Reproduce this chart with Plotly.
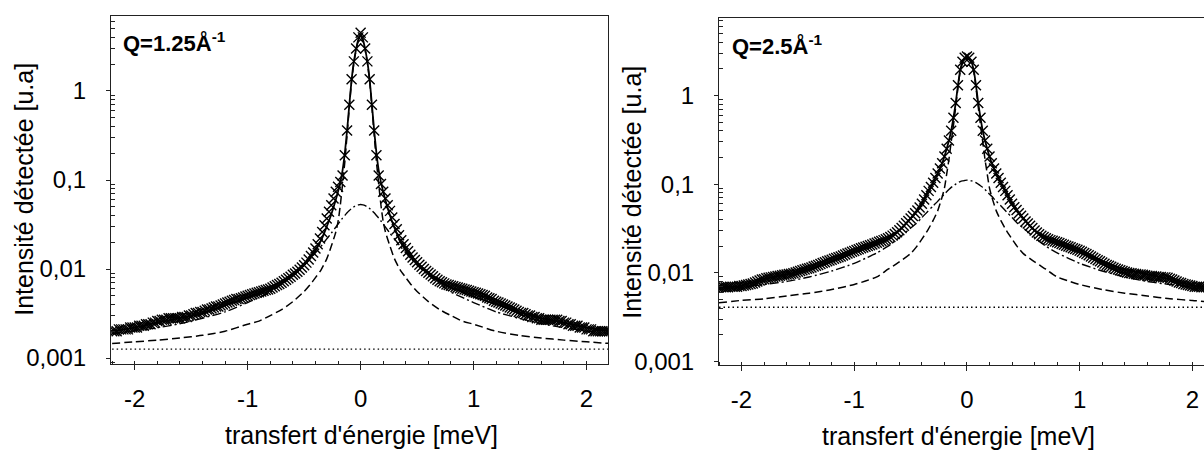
import numpy as np
import plotly.graph_objects as go

# ---------------- data ----------------
STEP = 0.02
E_DATA = np.round(np.arange(-110, 111) * STEP, 2)  # energy transfer grid (meV)

# measured intensity, Q = 1.25 A^-1
I_Q125 = [
    0.0020, 0.0020, 0.0020, 0.0021, 0.0021, 0.0021, 0.0021, 0.0021, 0.0022, 0.0022,
    0.0022, 0.0022, 0.0023, 0.0023, 0.0023, 0.0024, 0.0024, 0.0024, 0.0025, 0.0025,
    0.0026, 0.0026, 0.0027, 0.0027, 0.0027, 0.0028, 0.0028, 0.0028, 0.0028, 0.0028,
    0.0028, 0.0029, 0.0029, 0.0029, 0.0030, 0.0030, 0.0031, 0.0032, 0.0032, 0.0033,
    0.0033, 0.0034, 0.0035, 0.0035, 0.0036, 0.0037, 0.0038, 0.0038, 0.0039, 0.0040,
    0.0041, 0.0042, 0.0043, 0.0044, 0.0045, 0.0046, 0.0046, 0.0047, 0.0048, 0.0049,
    0.0050, 0.0051, 0.0052, 0.0053, 0.0054, 0.0055, 0.0056, 0.0057, 0.0058, 0.0059,
    0.0060, 0.0062, 0.0064, 0.0066, 0.0068, 0.0070, 0.0073, 0.0076, 0.0079, 0.0082,
    0.0086, 0.0089, 0.0093, 0.0098, 0.0104, 0.0110, 0.0118, 0.0128, 0.0140, 0.0153,
    0.0170, 0.0190, 0.0220, 0.0260, 0.0310, 0.0370, 0.0440, 0.0520, 0.0620, 0.0740,
    0.084, 0.095, 0.112, 0.19, 0.36, 0.70, 1.35, 2.15, 3.0, 4.0,
    4.5,
    4.0, 3.0, 2.15, 1.35, 0.70, 0.36, 0.19, 0.112, 0.090, 0.074,
    0.062, 0.052, 0.045, 0.038, 0.032, 0.028, 0.024, 0.021, 0.019, 0.0172,
    0.0158, 0.0145, 0.0135, 0.0126, 0.0119, 0.0112, 0.0106, 0.0100, 0.0095, 0.0091,
    0.0087, 0.0083, 0.0079, 0.0076, 0.0073, 0.0071, 0.0069, 0.0067, 0.0066, 0.0065,
    0.0064, 0.0063, 0.0062, 0.0061, 0.0060, 0.0059, 0.0058, 0.0057, 0.0056, 0.0055,
    0.0054, 0.0053, 0.0052, 0.0051, 0.0050, 0.0048, 0.0047, 0.0046, 0.0044, 0.0043,
    0.0042, 0.0041, 0.0040, 0.0039, 0.0038, 0.0037, 0.0036, 0.0035, 0.0034, 0.0033,
    0.0032, 0.0032, 0.0031, 0.0030, 0.0030, 0.0029, 0.0029, 0.0028, 0.0028, 0.0027,
    0.0027, 0.0027, 0.0027, 0.0027, 0.0027, 0.0027, 0.0027, 0.0026, 0.0026, 0.0025,
    0.0025, 0.0024, 0.0024, 0.0023, 0.0023, 0.0023, 0.0022, 0.0022, 0.0022, 0.0021,
    0.0021, 0.0021, 0.0020, 0.0020, 0.0020, 0.0020, 0.0020, 0.0020, 0.0020, 0.0020,
]

# measured intensity, Q = 2.5 A^-1
I_Q25 = [
    0.0069, 0.0069, 0.0069, 0.0069, 0.0069, 0.0070, 0.0070, 0.0070, 0.0070, 0.0071,
    0.0071, 0.0072, 0.0073, 0.0074, 0.0075, 0.0076, 0.0078, 0.0080, 0.0082, 0.0084,
    0.0085, 0.0087, 0.0088, 0.0089, 0.0090, 0.0091, 0.0092, 0.0093, 0.0094, 0.0095,
    0.0096, 0.0097, 0.0098, 0.0099, 0.0101, 0.0103, 0.0105, 0.0107, 0.0109, 0.0111,
    0.0113, 0.0115, 0.0118, 0.0120, 0.0123, 0.0126, 0.0129, 0.0132, 0.0135, 0.0138,
    0.0141, 0.0144, 0.0147, 0.0150, 0.0153, 0.0157, 0.0161, 0.0165, 0.0169, 0.0173,
    0.0177, 0.0181, 0.0185, 0.0189, 0.0193, 0.0197, 0.0201, 0.0205, 0.0209, 0.0214,
    0.0219, 0.0224, 0.0229, 0.0234, 0.0240, 0.0246, 0.0254, 0.0263, 0.0274, 0.0287,
    0.0302, 0.0320, 0.0340, 0.0362, 0.0385, 0.0410, 0.0438, 0.0470, 0.0505, 0.0545,
    0.060, 0.067, 0.075, 0.084, 0.093, 0.104, 0.117, 0.132, 0.150, 0.172,
    0.205, 0.25, 0.31, 0.40, 0.56, 0.82, 1.30, 1.95, 2.40, 2.65,
    2.75,
    2.65, 2.40, 1.95, 1.30, 0.82, 0.56, 0.40, 0.31, 0.25, 0.205,
    0.172, 0.150, 0.132, 0.117, 0.104, 0.093, 0.084, 0.075, 0.067, 0.060,
    0.055, 0.051, 0.047, 0.044, 0.041, 0.038, 0.036, 0.034, 0.032, 0.030,
    0.0285, 0.0272, 0.0262, 0.0253, 0.0245, 0.0239, 0.0234, 0.0230, 0.0226, 0.0222,
    0.0217, 0.0212, 0.0207, 0.0202, 0.0198, 0.0194, 0.0190, 0.0186, 0.0182, 0.0178,
    0.0173, 0.0168, 0.0163, 0.0158, 0.0153, 0.0148, 0.0143, 0.0139, 0.0135, 0.0131,
    0.0127, 0.0123, 0.0120, 0.0117, 0.0114, 0.0111, 0.0109, 0.0107, 0.0105, 0.0103,
    0.0101, 0.0100, 0.0099, 0.0098, 0.0097, 0.0096, 0.0096, 0.0095, 0.0094, 0.0093,
    0.0092, 0.0092, 0.0091, 0.0091, 0.0090, 0.0090, 0.0089, 0.0089, 0.0088, 0.0086,
    0.0084, 0.0082, 0.0080, 0.0078, 0.0077, 0.0075, 0.0074, 0.0073, 0.0072, 0.0071,
    0.0070, 0.0070, 0.0070, 0.0069, 0.0069, 0.0069, 0.0069, 0.0069, 0.0069, 0.0069,
]

# model curves (total fit, narrow/elastic component, broad component, background)
E_FIT = [-2.2, -2.0, -1.8, -1.6, -1.4, -1.2, -1.0, -0.9, -0.8, -0.7, -0.6, -0.5,
         -0.45, -0.4, -0.35, -0.3, -0.26, -0.22, -0.2, -0.18, -0.16, -0.14, -0.12,
         -0.1, -0.08, -0.06, -0.04, -0.02, 0.0, 0.02, 0.04, 0.06, 0.08, 0.1, 0.12,
         0.14, 0.16, 0.18, 0.2, 0.22, 0.26, 0.3, 0.35, 0.4, 0.45, 0.5, 0.6, 0.7,
         0.8, 0.9, 1.0, 1.2, 1.4, 1.6, 1.8, 2.0, 2.2]

FIT_Q125 = [0.0020, 0.0022, 0.0025, 0.0028, 0.0032, 0.0039, 0.0048, 0.0054, 0.0062,
            0.0073, 0.0090, 0.0116, 0.0136, 0.0164, 0.0210, 0.030, 0.041, 0.060,
            0.074, 0.094, 0.128, 0.20, 0.36, 0.70, 1.33, 2.12, 2.95, 3.8, 4.25,
            3.8, 2.95, 2.12, 1.33, 0.70, 0.36, 0.20, 0.128, 0.094, 0.074, 0.059,
            0.040, 0.029, 0.0205, 0.0160, 0.0132, 0.0113, 0.0088, 0.0072, 0.0062,
            0.0055, 0.0049, 0.0040, 0.0033, 0.0028, 0.0025, 0.0022, 0.0020]
NARROW_Q125 = [0.00146, 0.00152, 0.00159, 0.00168, 0.00180, 0.0020, 0.0024, 0.0026,
               0.0030, 0.0035, 0.0043, 0.0056, 0.0066, 0.0080, 0.0098, 0.0130, 0.018,
               0.026, 0.034, 0.052, 0.090, 0.16, 0.32, 0.66, 1.28, 2.05, 2.88, 3.7,
               4.15, 3.7, 2.88, 2.05, 1.28, 0.66, 0.32, 0.16, 0.090, 0.052, 0.034,
               0.026, 0.018, 0.0130, 0.0098, 0.0080, 0.0066, 0.0056, 0.0043, 0.0035,
               0.0030, 0.0026, 0.0024, 0.0020, 0.00180, 0.00168, 0.00159, 0.00152,
               0.00146]
BROAD_Q125 = [0.00189, 0.00202, 0.00219, 0.00243, 0.0028, 0.0033, 0.0042, 0.0048,
              0.0055, 0.0068, 0.0085, 0.0111, 0.0129, 0.0152, 0.0180, 0.0218, 0.0252,
              0.0296, 0.0320, 0.0346, 0.0373, 0.0400, 0.0428, 0.0454, 0.0478, 0.0499,
              0.0515, 0.0525, 0.0530, 0.0525, 0.0515, 0.0499, 0.0478, 0.0454, 0.0428,
              0.0400, 0.0373, 0.0346, 0.0320, 0.0296, 0.0252, 0.0218, 0.0180, 0.0152,
              0.0129, 0.0111, 0.0085, 0.0068, 0.0055, 0.0048, 0.0042, 0.0033, 0.0028,
              0.00243, 0.00219, 0.00202, 0.00189]

FIT_Q25 = [0.0068, 0.0072, 0.0085, 0.0096, 0.0110, 0.0136, 0.0174, 0.0195, 0.0218,
           0.0244, 0.030, 0.041, 0.049, 0.061, 0.080, 0.104, 0.132, 0.172, 0.205,
           0.25, 0.31, 0.40, 0.56, 0.82, 1.30, 1.93, 2.38, 2.62, 2.70, 2.62, 2.38,
           1.93, 1.30, 0.82, 0.56, 0.40, 0.31, 0.25, 0.205, 0.172, 0.132, 0.104,
           0.080, 0.061, 0.049, 0.041, 0.030, 0.0244, 0.0218, 0.0195, 0.0174,
           0.0136, 0.0110, 0.0096, 0.0085, 0.0072, 0.0068]
NARROW_Q25 = [0.0046, 0.0049, 0.0051, 0.0055, 0.0059, 0.0065, 0.0074, 0.0081, 0.0090,
              0.0110, 0.0133, 0.0165, 0.0195, 0.024, 0.030, 0.039, 0.050, 0.072,
              0.090, 0.13, 0.19, 0.30, 0.46, 0.74, 1.22, 1.85, 2.3, 2.52, 2.6, 2.52,
              2.3, 1.85, 1.22, 0.74, 0.46, 0.30, 0.19, 0.13, 0.090, 0.072, 0.050,
              0.039, 0.030, 0.024, 0.0195, 0.0165, 0.0133, 0.0110, 0.0090, 0.0081,
              0.0074, 0.0065, 0.0059, 0.0055, 0.0051, 0.0049, 0.0046]
BROAD_Q25 = [0.0065, 0.0069, 0.0074, 0.0080, 0.0090, 0.0105, 0.0128, 0.0146, 0.0168,
             0.020, 0.025, 0.032, 0.036, 0.042, 0.049, 0.057, 0.064, 0.073, 0.077,
             0.082, 0.087, 0.092, 0.096, 0.100, 0.104, 0.107, 0.109, 0.110, 0.111,
             0.110, 0.109, 0.107, 0.104, 0.100, 0.096, 0.092, 0.087, 0.082, 0.077,
             0.073, 0.064, 0.057, 0.049, 0.042, 0.036, 0.032, 0.025, 0.020, 0.0168,
             0.0146, 0.0128, 0.0105, 0.0090, 0.0080, 0.0074, 0.0069, 0.0065]

E_BG = [-2.2, 2.2]
BG_Q125 = [0.00126, 0.00126]
BG_Q25 = [0.0041, 0.0041]

PANEL_LABELS = ["<b>Q=1.25Å<sup>-1</sup></b>", "<b>Q=2.5Å<sup>-1</sup></b>"]
X_TITLE = "transfert d'énergie [meV]"
Y_TITLE = "Intensité détectée [u.a]"
X_TICKS = [-2, -1, 0, 1, 2]
X_TICKTEXT = ["-2", "-1", "0", "1", "2"]
Y_TICKS = [0.001, 0.01, 0.1, 1]
Y_TICKTEXT = ["0,001", "0,01", "0,1", "1"]

# ---------------- figure ----------------
W, H = 1204, 461
FONT = "Liberation Sans, Arial, sans-serif"
INK = "black"

fig = go.Figure()


def add_panel(xa, ya, i_data, fit, narrow, broad, bg):
    fig.add_trace(go.Scatter(x=E_BG, y=bg, mode="lines", xaxis=xa, yaxis=ya,
                             line=dict(color=INK, width=1.3, dash="1.5px,3px")))
    fig.add_trace(go.Scatter(x=E_FIT, y=narrow, mode="lines", xaxis=xa, yaxis=ya,
                             line=dict(color=INK, width=1.5, dash="8px,4px", shape="spline", smoothing=0.6)))
    fig.add_trace(go.Scatter(x=E_FIT, y=broad, mode="lines", xaxis=xa, yaxis=ya,
                             line=dict(color=INK, width=1.4, dash="9px,3px,2px,3px", shape="spline", smoothing=0.6)))
    fig.add_trace(go.Scatter(x=E_DATA, y=i_data, mode="markers", xaxis=xa, yaxis=ya,
                             marker=dict(symbol="x-thin", size=10, color=INK,
                                         line=dict(color=INK, width=1.4))))
    fig.add_trace(go.Scatter(x=E_FIT, y=fit, mode="lines", xaxis=xa, yaxis=ya,
                             line=dict(color=INK, width=1.8, shape="spline", smoothing=0.6)))


add_panel("x", "y", I_Q125, FIT_Q125, NARROW_Q125, BROAD_Q125, BG_Q125)
add_panel("x2", "y2", I_Q25, FIT_Q25, NARROW_Q25, BROAD_Q25, BG_Q25)

minor_y = [m * 10.0 ** k for k in range(-4, 1) for m in range(2, 10)]


def xaxis_cfg(domain, rng, anchor, mirror):
    return dict(domain=domain, range=rng, anchor=anchor, tickmode="array",
                tickvals=X_TICKS, ticktext=X_TICKTEXT, ticks="outside", ticklen=5,
                tickwidth=1, tickcolor="#222", showline=True, linecolor="#222",
                linewidth=1, mirror=mirror, showgrid=False, zeroline=False,
                ticklabelstandoff=8,
                tickfont=dict(family=FONT, size=24, color=INK),
                minor=dict(dtick=0.2, tick0=0, ticks="inside", ticklen=3,
                           tickcolor="#222", showgrid=False))


def yaxis_cfg(domain, rng, anchor, mirror):
    return dict(domain=domain, type="log", range=rng, anchor=anchor,
                tickmode="array", tickvals=Y_TICKS, ticktext=Y_TICKTEXT,
                ticks="outside", ticklen=4, tickwidth=1, tickcolor="#222",
                showline=True, linecolor="#222", linewidth=1, mirror=mirror,
                showgrid=False, zeroline=False, ticklabelstandoff=15,
                tickfont=dict(family=FONT, size=24, color=INK),
                minor=dict(tickmode="array", tickvals=minor_y, ticks="inside",
                           ticklen=4, tickcolor="#222", showgrid=False))


fig.update_layout(
    width=W, height=H, margin=dict(l=0, r=0, t=0, b=0),
    paper_bgcolor="white", plot_bgcolor="white", showlegend=False,
    xaxis=xaxis_cfg([111 / W, 608 / W], [-2.21, 2.19], "y", True),
    yaxis=yaxis_cfg([1 - 372 / H, 1 - 16 / H], [-3.066, 0.846], "x", True),
    xaxis2=xaxis_cfg([719 / W, 1.0], [-2.2, 2.103], "y2", True),
    yaxis2=yaxis_cfg([1 - 373 / H, 1 - 18 / H], [-3.037, 0.877], "x2", False),
)

ann = []
for i, (cx, ty, yx, yy) in enumerate([(361, 445, 24, 194), (958, 446, 632, 197)]):
    ann.append(dict(text=X_TITLE, x=cx / W, y=1 - ty / H, xref="paper", yref="paper",
                    xanchor="center", yanchor="middle", showarrow=False,
                    font=dict(family=FONT, size=25, color=INK)))
    ann.append(dict(text=Y_TITLE, x=yx / W, y=1 - yy / H, xref="paper", yref="paper",
                    xanchor="center", yanchor="middle", textangle=-90, showarrow=False,
                    font=dict(family=FONT, size=25, color=INK)))
for lab, lx, ly in zip(PANEL_LABELS, [121, 730], [43, 46]):
    ann.append(dict(text=lab, x=lx / W, y=1 - ly / H, xref="paper", yref="paper",
                    xanchor="left", yanchor="middle", showarrow=False,
                    font=dict(family=FONT, size=22, color=INK)))
fig.update_layout(annotations=ann)

fig.write_html("out.html", post_script="document.body.style.margin='0';",
               config={"displayModeBar": False})
